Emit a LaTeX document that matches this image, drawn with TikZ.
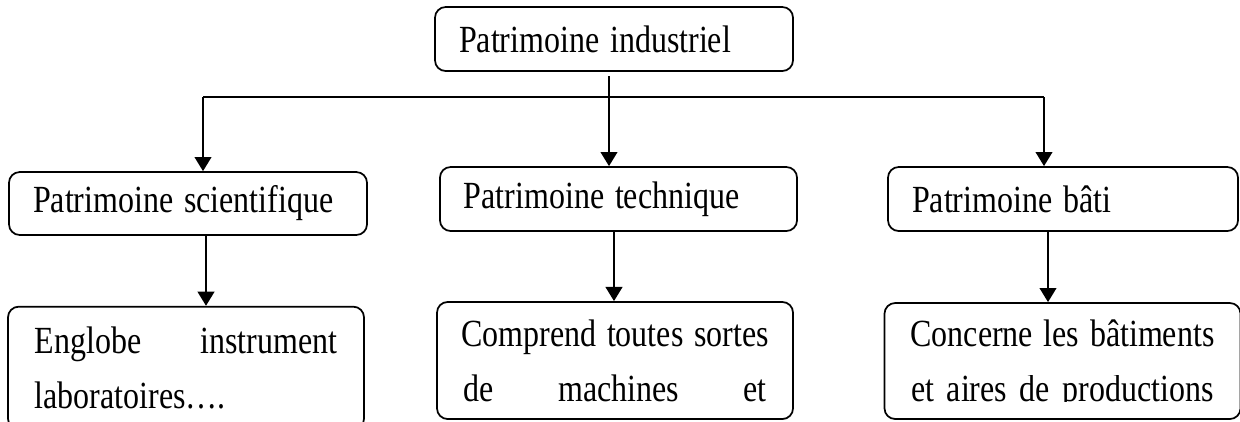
\documentclass[tikz,border=0pt]{standalone}
\usepackage{fontspec}
\setmainfont{Liberation Serif}
\usepackage{graphicx}
\usepackage{trimclip}
\usetikzlibrary{arrows.meta}

\newcommand{\tallText}[1]{\scalebox{1}[1.2]{#1}}
\newcommand{\fullLine}[1]{\tallText{\makebox[113.5pt]{#1}}}

\begin{document}
\begin{tikzpicture}[x=0.375pt, y=-0.375pt,
    box/.style={draw, line width=0.65pt, rounded corners=4pt, inner xsep=9pt, inner ysep=0pt, align=left, font=\fontsize{12}{20.6}\selectfont},
    longbox/.style={box, inner xsep=10pt},
    link/.style={line width=0.9pt, -{Triangle[length=5.3pt, width=6.2pt]}}]
    \useasboundingbox (0,0) rectangle (1240,421);
    % top level
    \node[box, text width=116.25pt, minimum height=24pt] (ind) at (614,39) {\tallText{Patrimoine industriel}};
    % second row
    \node[box, text width=116.25pt, minimum height=23.6pt] (sci) at (188,203.5) {\tallText{Patrimoine scientifique}};
    \node[box, text width=115.9pt, minimum height=24pt] (tech) at (618.5,199) {\tallText{Patrimoine technique}};
    \node[box, text width=113.25pt, minimum height=24pt] (bati) at (1063,199) {\tallText{Patrimoine b\^ati}};
    % third row
    \node[longbox, text width=113.5pt, minimum height=46pt] (sciD) at (186,368) {\fullLine{Englobe \hfill instrument}\\ \tallText{laboratoires….}};
    \node[longbox, text width=113.5pt, minimum height=43.9pt] (techD) at (615,360.5) {\fullLine{Comprend \hfill toutes \hfill sortes}\\ \fullLine{de \hfill machines \hfill et}};
    \node[longbox, text width=113.5pt, minimum height=43.5pt] (batiD) at (1062.5,361) {\fullLine{Concerne \hfill les \hfill b\^atiments}\\ \tallText{\clipbox{0pt {\depth} 0pt 0pt}{\makebox[113.5pt]{et \hfill aires \hfill de \hfill productions}}}};
    % connectors
    \coordinate (hubL) at (203,97);
    \coordinate (hubR) at (1044,97);
    \coordinate (hubC) at (609,76);
    \draw[line width=0.9pt] (hubL) -- (hubR);
    \draw[link] (hubL) -- (sci.north -| hubL);
    \draw[link] (hubC) -- (tech.north -| hubC);
    \draw[link] (hubR) -- (bati.north -| hubR);
    \draw[link] (sci.south -| 206,0) -- (sciD.north -| 206,0);
    \draw[link] (tech.south -| 614,0) -- (techD.north -| 614,0);
    \draw[link] (bati.south -| 1048,0) -- (batiD.north -| 1048,0);
\end{tikzpicture}
\end{document}
